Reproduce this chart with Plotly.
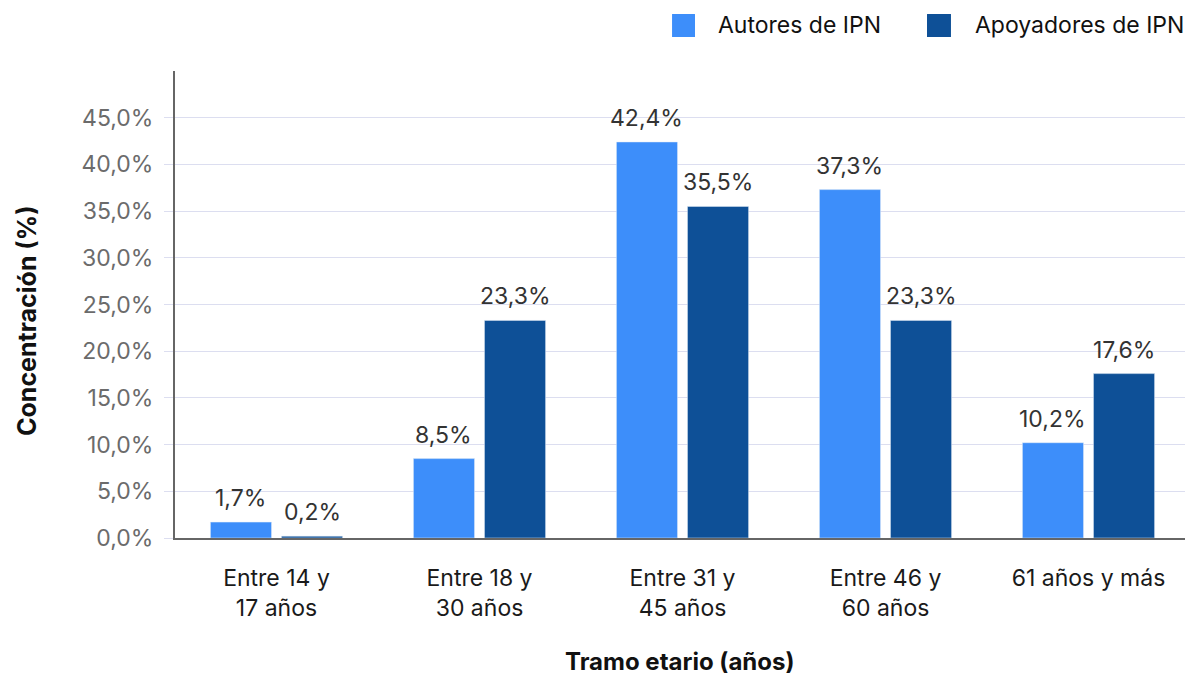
import plotly.graph_objects as go

categories = ["Entre 14 y<br>17 años", "Entre 18 y<br>30 años", "Entre 31 y<br>45 años",
              "Entre 46 y<br>60 años", "61 años y más"]
autores = [1.7, 8.5, 42.4, 37.3, 10.2]
apoyadores = [0.2, 23.3, 35.5, 23.3, 17.6]
series_names = ["Autores de IPN", "Apoyadores de IPN"]
colors = ["#3D8EFA", "#0E5097"]
y_ticks = [0, 5, 10, 15, 20, 25, 30, 35, 40, 45]
y_ticktext = [f"{v:.1f}%".replace(".", ",") for v in y_ticks]

FONT = "Inter, Roboto, sans-serif"
BARGAP = 0.3
GROUPGAP = 0.14

fig = go.Figure()
for name, vals, col in zip(series_names, [autores, apoyadores], colors):
    fig.add_trace(go.Bar(x=categories, y=vals, name=name, marker_color=col,
                         showlegend=False, hoverinfo="y"))

# value labels above bars
slot = (1 - BARGAP) / 2
for k, vals in enumerate([autores, apoyadores]):
    off = (k - 0.5) * slot
    for i, v in enumerate(vals):
        fig.add_annotation(x=i + off, y=v, xref="x", yref="y",
                           text=f"{v:.1f}%".replace(".", ","), showarrow=False,
                           yanchor="bottom", yshift=8,
                           font=dict(family=FONT, size=23, color="#333333"))

# custom legend
legend_items = [(0.4897, 0.5123, 0.533), (0.7409, 0.7645, 0.7862)]
for (x0, x1, xt), name, col in zip(legend_items, series_names, colors):
    fig.add_shape(type="rect", xref="paper", yref="paper", x0=x0, x1=x1,
                  y0=1.0728, y1=1.122, fillcolor=col, line_width=0)
    fig.add_annotation(xref="paper", yref="paper", x=xt, y=1.0975, text=name,
                       showarrow=False, xanchor="left", yanchor="middle",
                       font=dict(family=FONT, size=23, color="#111111"))

# axis titles
fig.add_annotation(xref="paper", yref="paper", x=0.4975, y=-0.2655,
                   text="<b>Tramo etario (años)</b>", showarrow=False,
                   xanchor="center", yanchor="middle",
                   font=dict(family=FONT, size=24, color="#111111"))
fig.add_annotation(xref="paper", yref="paper", x=-0.1458, y=0.4647,
                   text="<b>Concentración (%)</b>", showarrow=False, textangle=-90,
                   xanchor="center", yanchor="middle",
                   font=dict(family=FONT, size=25, color="#111111"))

fig.update_layout(
    width=1185, height=667,
    margin=dict(l=167, r=3, t=63, b=137),
    paper_bgcolor="white", plot_bgcolor="white",
    barmode="group", bargap=BARGAP, bargroupgap=GROUPGAP,
    font=dict(family=FONT, size=23, color="#222222"),
    xaxis=dict(
        type="category", showline=True, linecolor="#666666", linewidth=2,
        showgrid=False, ticks="", tickfont=dict(size=23, color="#1a1a1a"),
        ticklabelstandoff=18,
    ),
    yaxis=dict(
        range=[0, 50], tickvals=y_ticks, ticktext=y_ticktext,
        showline=True, linecolor="#666666", linewidth=2,
        showgrid=True, gridcolor="#DCDEF0", gridwidth=1,
        ticks="outside", ticklen=9, tickcolor="#DCDEF0",
        ticklabelstandoff=6,
        tickfont=dict(size=23, color="#6b6b6b"),
        zeroline=False,
    ),
)

fig.write_html("out.html")
